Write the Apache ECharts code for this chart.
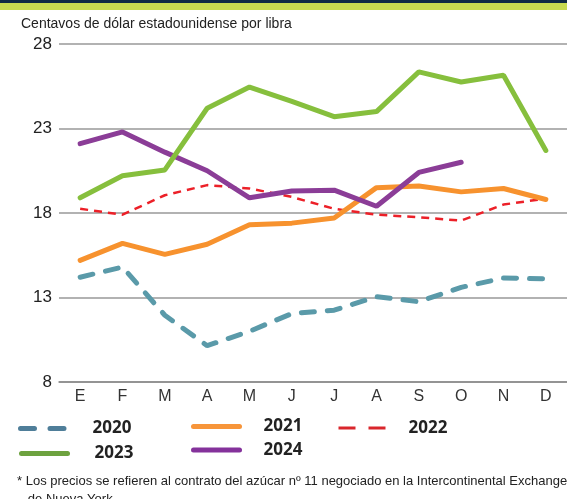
<!DOCTYPE html>
<html>
<head>
<meta charset="utf-8">
<script src="https://cdn.jsdelivr.net/npm/echarts@6/dist/echarts.min.js"></script>
<style>
  html, body { margin: 0; padding: 0; background: #fff; }
  #chart { width: 567px; height: 499px; }
</style>
</head>
<body>
<div id="chart"></div>
<script>
const months = ["E", "F", "M", "A", "M", "J", "J", "A", "S", "O", "N", "D"];
const yTicks = [8, 13, 18, 23, 28];

const s2020 = [14.2, 14.8, 11.95, 10.15, 11.0, 12.05, 12.25, 13.05, 12.75, 13.6, 14.15, 14.1];
const s2021 = [15.2, 16.2, 15.55, 16.15, 17.3, 17.4, 17.7, 19.5, 19.6, 19.25, 19.45, 18.8];
const s2022 = [18.25, 17.9, 19.05, 19.65, 19.45, 18.95, 18.25, 17.9, 17.75, 17.55, 18.5, 18.85];
const s2023 = [18.9, 20.2, 20.55, 24.2, 25.45, 24.6, 23.7, 24.0, 26.35, 25.75, 26.15, 21.7];
const s2024 = [22.1, 22.8, 21.6, 20.5, 18.9, 19.3, 19.35, 18.4, 20.4, 21.0];

const condensed = "'Liberation Sans Narrow', 'Liberation Sans', sans-serif";

const chart = echarts.init(document.getElementById("chart"));

function legendAt(name, left, top, itemWidth, gap, color, width, dash, cap) {
  return {
    data: [name],
    left: left,
    top: top,
    padding: 0,
    selectedMode: false,
    itemWidth: itemWidth,
    itemHeight: 14,
    textStyle: {
      fontFamily: "'Open Sans', sans-serif", fontWeight: "bold", fontSize: 17,
      color: "#222", padding: [0, 0, 0, gap]
    },
    itemStyle: { opacity: 0 },
    lineStyle: { width: width, color: color, type: dash, cap: cap }
  };
}

const option = {
  animation: false,
  graphic: [
    { type: "rect", shape: { x: 0, y: 0, width: 567, height: 3 }, style: { fill: "#0f2a44" } },
    { type: "rect", shape: { x: 0, y: 3, width: 567, height: 7 }, style: { fill: "#c7da50" } }
  ],
  title: [
    {
      text: "Centavos de dólar estadounidense por libra",
      left: 16,
      top: 12,
      textStyle: { fontFamily: condensed, fontSize: 14, fontWeight: "normal", color: "#222" }
    },
    {
      text: "* Los precios se refieren al contrato del azúcar nº 11 negociado en la Intercontinental Exchange\n   de Nueva York",
      left: 12,
      top: 467,
      textStyle: { fontFamily: condensed, fontSize: 13, fontWeight: "normal", color: "#222", lineHeight: 18 }
    }
  ],
  legend: [
    legendAt("2020", 18, 420, 46, 21, "#4f7e99", 5, [14, 15.5], "round"),
    legendAt("2021", 191, 418, 46, 19, "#f7953a", 5, "solid", "round"),
    legendAt("2022", 337, 419.5, 47, 18, "#d9262c", 3, [17, 13], "butt"),
    legendAt("2023", 19, 445, 46, 22, "#6da23f", 5, "solid", "round"),
    legendAt("2024", 191, 441.5, 46, 19, "#84329b", 5, "solid", "round")
  ],
  grid: { left: 59, right: 0, top: 44, bottom: 117 },
  xAxis: {
    type: "category",
    data: months,
    boundaryGap: true,
    axisLine: { lineStyle: { color: "#8a8a8a", width: 1.5 } },
    axisTick: { alignWithLabel: true, inside: true, length: 5, lineStyle: { color: "#222", width: 2 } },
    axisLabel: { margin: 7, fontFamily: condensed, fontSize: 16, color: "#333" }
  },
  yAxis: {
    type: "value",
    min: yTicks[0],
    max: yTicks[yTicks.length - 1],
    interval: 5,
    axisLine: { show: false },
    axisTick: { show: false },
    splitLine: { lineStyle: { color: "#999", width: 1.5 } },
    axisLabel: { margin: 7, fontFamily: condensed, fontSize: 17, color: "#222" }
  },
  series: [
    {
      name: "2020", type: "line", data: s2020, symbol: "none", showSymbol: false,
      lineStyle: { color: "#5a9aa9", width: 5, type: [13, 13], cap: "round" },
      itemStyle: { color: "#5a9aa9" }
    },
    {
      name: "2022", type: "line", data: s2022, symbol: "none", showSymbol: false,
      lineStyle: { color: "#ec2028", width: 2.5, type: [8, 6] },
      itemStyle: { color: "#ec2028" }
    },
    {
      name: "2021", type: "line", data: s2021, symbol: "none", showSymbol: false,
      lineStyle: { color: "#f7922e", width: 5, cap: "round" },
      itemStyle: { color: "#f7922e" }
    },
    {
      name: "2024", type: "line", data: s2024, symbol: "none", showSymbol: false,
      lineStyle: { color: "#8b3d97", width: 5, cap: "round" },
      itemStyle: { color: "#8b3d97" }
    },
    {
      name: "2023", type: "line", data: s2023, symbol: "none", showSymbol: false,
      lineStyle: { color: "#86bf3d", width: 5, cap: "round" },
      itemStyle: { color: "#86bf3d" }
    }
  ]
};

chart.setOption(option);
</script>
</body>
</html>
